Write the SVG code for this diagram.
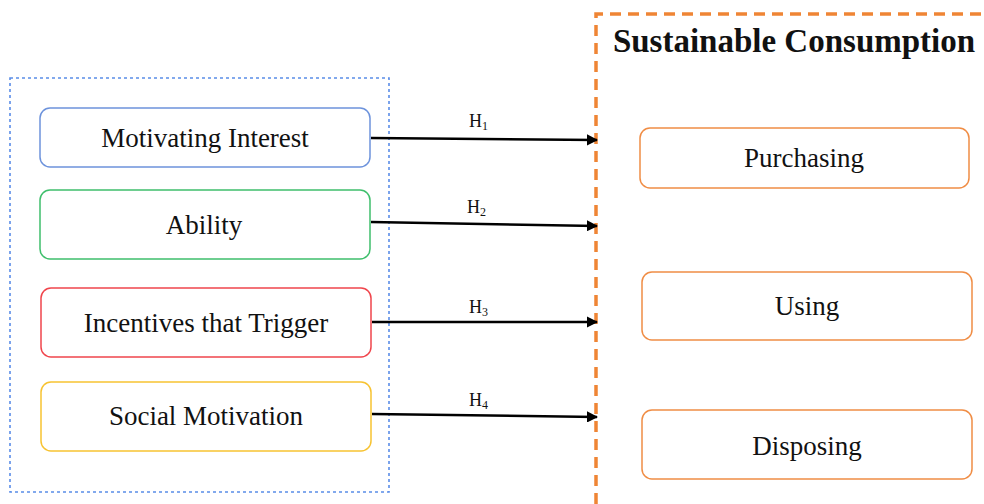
<svg xmlns="http://www.w3.org/2000/svg" width="984" height="504" viewBox="0 0 984 504">
<style>
  .node { fill: #ffffff; stroke-width: 1.5; }
  .lbl { font-family: "Liberation Serif", "Times New Roman", serif; font-size: 27px; fill: #111; text-anchor: middle; }
  .h { font-family: "Liberation Serif", "Times New Roman", serif; font-size: 18px; fill: #111; }
  .sub { font-size: 12px; }
  .conn { stroke: #000; stroke-width: 2.5; fill: none; marker-end: url(#arr); }
</style>
<defs>
  <marker id="arr" viewBox="0 0 10 10" refX="9" refY="5" markerWidth="4.5" markerHeight="4.5" orient="auto" markerUnits="strokeWidth">
    <path d="M0,0 L10,5 L0,10 z" fill="#000"/>
  </marker>
</defs>
<rect width="984" height="504" fill="#ffffff"/>

<g id="group-left">
  <rect x="10" y="78" width="379" height="414" fill="none" stroke="#5a8de8" stroke-width="1.6" stroke-dasharray="3,3"/>
</g>
<g id="group-right">
  <path d="M596,504 L596,14 L984,14" fill="none" stroke="#ef8535" stroke-width="3.5" stroke-dasharray="11,7"/>
  <text x="794" y="52" font-family="Liberation Serif, 'Times New Roman', serif" font-size="33" font-weight="bold" fill="#111" text-anchor="middle">Sustainable Consumption</text>
</g>

<g id="motivating-interest">
  <rect class="node" x="40" y="108" width="330" height="59" rx="10" stroke="#6d93dc"/>
  <text class="lbl" x="205" y="147">Motivating Interest</text>
</g>
<g id="ability">
  <rect class="node" x="40" y="190" width="330" height="69" rx="10" stroke="#3fbf6c"/>
  <text class="lbl" x="204" y="234">Ability</text>
</g>
<g id="incentives">
  <rect class="node" x="41" y="288" width="330" height="69" rx="10" stroke="#f0454c"/>
  <text class="lbl" x="206" y="332">Incentives that Trigger</text>
</g>
<g id="social-motivation">
  <rect class="node" x="41" y="382" width="330" height="69" rx="10" stroke="#f7c332"/>
  <text class="lbl" x="206" y="425">Social Motivation</text>
</g>

<g id="purchasing">
  <rect class="node" x="640" y="128" width="329" height="60" rx="10" stroke="#f08d45"/>
  <text class="lbl" x="804" y="167">Purchasing</text>
</g>
<g id="using">
  <rect class="node" x="642" y="272" width="330" height="68" rx="10" stroke="#f08d45"/>
  <text class="lbl" x="807" y="315">Using</text>
</g>
<g id="disposing">
  <rect class="node" x="642" y="410" width="330" height="69" rx="10" stroke="#f08d45"/>
  <text class="lbl" x="807" y="455">Disposing</text>
</g>

<g id="connectors">
  <line class="conn" x1="371" y1="138" x2="597" y2="140"/>
  <line class="conn" x1="371" y1="222" x2="597" y2="226"/>
  <line class="conn" x1="372" y1="322" x2="597" y2="322"/>
  <line class="conn" x1="372" y1="414" x2="597" y2="417"/>
  <text class="h" x="469" y="127">H<tspan class="sub" dy="3">1</tspan></text>
  <text class="h" x="467" y="213">H<tspan class="sub" dy="3">2</tspan></text>
  <text class="h" x="469" y="313">H<tspan class="sub" dy="3">3</tspan></text>
  <text class="h" x="469" y="406">H<tspan class="sub" dy="3">4</tspan></text>
</g>
</svg>
